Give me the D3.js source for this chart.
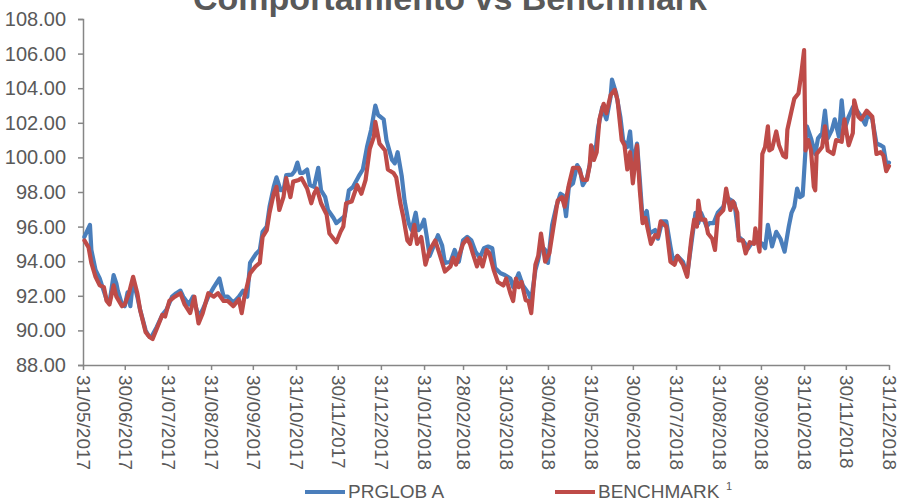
<!DOCTYPE html>
<html>
<head>
<meta charset="utf-8">
<script src="https://cdn.jsdelivr.net/npm/d3@7"></script>
<style>
  body { margin: 0; background: #fff; }
  svg { display: block; font-family: "Liberation Sans", Arial, sans-serif; }
</style>
</head>
<body>
<div id="chart"></div>
<script>
// data: days since 31/05/2017 and index values
var START_DATE = "31/05/2017";

var tickLabels = ["31/05/2017", "30/06/2017", "31/07/2017", "31/08/2017", "30/09/2017",
    "31/10/2017", "30/11/2017", "31/12/2017", "31/01/2018", "28/02/2018", "31/03/2018",
    "30/04/2018", "31/05/2018", "30/06/2018", "31/07/2018", "31/08/2018", "30/09/2018",
    "31/10/2018", "30/11/2018", "31/12/2018"];

var yTicks = [88, 90, 92, 94, 96, 98, 100, 102, 104, 106, 108];

var seriesNames = ["PRGLOB A", "BENCHMARK"];

var prglobDays = [1,5,6,9,12,14,17,19,22,24, 25,28,30,32,34,36,39,41,45,47,
    49,53,57,60,64,67,70,72,76,79, 83,86,90,94,98,101,104,108,112,115,
    118,120,124,127,129,132,134,137,139,142, 144,146,150,152,154,156,158,161,163,166,
    169,171,174,176,180,182,185,188,191,194, 198,201,204,207,210,212,216,218,222,224,
    226,229,231,234,236,239,241,243,245,247, 249,252,255,258,260,264,267,270,273,276,
    279,282,285,288,291,294,296,300,303,307, 309,313,316,320,322,325,327,329,332,334,
    337,340,343,345,347,349,352,355,357,359, 362,364,366,368,370,373,376,379,380,383,
    386,388,391,393,395,398,400,402,405,407, 411,413,416,419,422,424,427,431,434,437,
    440,442,444,448,450,453,456,460,462,466, 468,471,474,478,480,484,488,490,492,495,
    498,501,504,507,509,511,513,515,517,519, 520,523,526,528,531,533,535,538,540,543,
    545,547,550,553,556,559,562,564,567,570, 573,575,577,579];

var prglobValues = [95.4,96.1,94.65,93.5,93.0,92.5,91.76,91.6,93.2,92.7,
    92.3,91.5,91.4,92.2,91.4,92.9,91.95,91.2,90.0,89.7,
    89.6,90.2,90.9,91.2,91.95,92.15,92.3,91.95,91.5,91.95,
    90.8,91.2,91.95,92.5,93.0,91.95,91.95,91.6,91.95,92.3,
    91.95,93.9,94.4,94.65,95.7,96.0,97.15,98.3,98.85,98.1,
    98.1,98.98,99.0,99.2,99.7,99.1,99.1,99.3,98.4,98.3,
    99.4,98.1,97.7,96.96,96.5,96.2,96.4,96.6,98.1,98.3,
    98.9,99.3,100.6,101.6,103.0,102.45,102.2,101.0,99.85,99.66,
    100.3,98.9,97.5,96.2,95.8,96.8,95.8,96.0,96.4,95.4,
    94.3,94.9,95.5,94.9,93.9,93.97,94.65,93.97,95.2,95.4,
    95.2,94.55,94.2,94.75,94.85,94.75,93.6,93.3,93.2,93.0,
    92.5,93.3,92.6,92.15,91.75,93.5,94.07,94.9,94.65,93.9,
    96.1,97.15,97.9,97.8,96.6,98.3,98.5,99.56,99.3,98.4,
    98.8,99.56,100.6,100.23,101.7,102.9,102.2,103.5,104.5,103.7,
    102.35,101.0,100.6,101.5,99.56,100.8,98.7,96.4,96.9,95.6,
    95.8,95.3,96.3,96.3,94.85,93.97,94.3,93.97,93.2,95.0,
    96.8,96.2,96.8,96.0,96.2,96.2,96.8,97.15,97.7,97.5,
    97.35,95.4,95.2,94.75,95.0,95.2,95.0,94.75,96.1,94.85,
    95.7,95.3,94.55,96.0,96.8,97.15,98.2,97.7,97.8,100.4,
    101.8,101.1,100.2,101.1,101.4,102.7,101.1,101.6,102.2,101.2,
    103.3,101.6,102.35,102.9,102.7,102.35,101.9,102.55,102.2,100.8,
    100.7,100.6,99.66,99.7];

var benchDays = [1,4,6,9,12,15,17,19,22,24, 28,30,33,36,39,41,45,48,50,53,
    57,59,62,66,70,73,77,80,83,86, 90,94,97,101,104,108,112,114,116,120,
    124,127,129,132,134,137,139,141,144,146, 149,151,155,157,161,164,166,168,171,175,
    177,180,182,185,187,189,193,197,200,203, 206,209,210,213,217,219,223,225,228,230,
    233,235,238,240,243,246,249,253,256,260, 264,266,268,273,276,278,280,283,285,287,
    290,292,295,298,302,304,307,309,311,313, 315,318,320,322,325,327,329,332,335,338,
    341,344,346,349,352,356,359,362,364,365, 367,369,371,374,376,379,382,384,387,389,
    391,393,395,398,400,402,404,408,411,413, 415,419,422,425,427,431,434,437,439,441,
    442,444,447,449,452,454,456,460,462,465, 467,470,471,474,476,479,482,483,486,488,
    490,492,493,495,498,500,503,505,506,509, 511,514,516,518,519,521,523,525,526,527,
    531,533,535,539,541,545,547,550,553,554, 557,559,561,563,567,570,573,575,577,579];

var benchValues = [95.2,94.8,93.9,93.1,92.6,92.5,91.7,91.5,92.6,91.95,
    91.4,91.5,92.15,93.1,92.15,91.2,89.9,89.6,89.5,90.1,
    90.9,90.8,91.7,91.95,92.15,91.5,91.0,91.95,90.4,91.0,
    92.15,91.95,92.15,91.7,91.7,91.4,91.8,91.0,91.95,93.3,
    93.7,93.9,95.4,95.8,96.8,97.9,98.3,96.96,97.7,98.8,
    97.7,98.6,98.7,98.8,98.2,97.35,97.9,98.2,97.35,96.7,
    95.6,95.3,95.1,95.7,96.0,97.35,97.45,98.4,97.9,98.7,
    100.5,101.2,102.05,100.8,100.4,99.3,99.1,98.85,97.35,96.6,
    95.2,95.0,96.1,95.0,95.4,93.8,94.65,95.2,94.45,93.4,
    93.7,94.2,93.8,95.0,95.3,95.0,94.45,93.7,94.2,93.7,
    94.65,94.45,93.5,92.8,92.6,93.0,92.15,91.7,93.0,92.5,
    92.8,91.75,91.7,91.0,93.8,94.3,95.6,93.97,94.45,96.0,
    97.5,97.7,97.15,98.4,99.4,99.4,98.7,98.7,99.56,100.7,
    99.85,100.3,102.2,103.1,102.55,103.6,103.9,103.3,101.0,100.7,
    99.3,100.3,98.5,100.7,98.1,96.2,96.5,95.0,95.5,95.4,
    96.3,96.0,93.97,93.8,94.3,93.8,93.1,95.3,96.4,96.0,
    97.5,96.4,96.4,95.6,95.3,94.65,96.6,96.96,98.2,96.96,
    97.45,96.8,95.2,95.2,94.45,95.1,95.0,95.9,94.55,100.2,
    100.6,101.8,100.4,100.5,101.5,100.7,100.1,100.0,101.6,102.7,
    103.4,103.7,104.85,106.2,100.4,101.0,100.4,98.3,98.1,100.2,
    100.6,101.8,100.4,100.2,101.0,100.9,102.2,100.7,101.4,103.3,
    102.35,102.2,102.45,102.7,102.35,100.2,100.3,100.1,99.2,99.5];

var WIDTH = 899, HEIGHT = 499;
var LEFT = 83, RIGHT = 889, TOP = 19, BOTTOM = 365;
var BLUE = "#4a7ebb", RED = "#be4b48", AXIS = "#868686", TEXT = "#595959";

var parse = d3.timeParse("%d/%m/%Y");
var start = parse(START_DATE);
var tickDates = tickLabels.map(parse);

function toPoints(days, values) {
    return days.map(function (d, i) {
        return {date: d3.timeDay.offset(start, d), value: values[i]};
    });
}

var series = [
    {name: seriesNames[0], color: BLUE, points: toPoints(prglobDays, prglobValues)},
    {name: seriesNames[1], color: RED, points: toPoints(benchDays, benchValues)}
];

var x = d3.scaleTime()
    .domain([tickDates[0], tickDates[tickDates.length - 1]])
    .range([LEFT, RIGHT]);

var y = d3.scaleLinear()
    .domain([88, 108])
    .range([BOTTOM, TOP]);

var svg = d3.select("#chart").append("svg")
    .attr("width", WIDTH)
    .attr("height", HEIGHT);

// title (top of it runs off the image, as in the original)
svg.append("text")
    .attr("x", 450)
    .attr("y", 10)
    .attr("text-anchor", "middle")
    .attr("fill", TEXT)
    .style("font-size", "34px")
    .style("font-weight", "bold")
    .text("Comportamiento vs Benchmark");

// y axis
var yAxis = svg.append("g")
    .attr("transform", "translate(" + LEFT + ",0)")
    .call(d3.axisLeft(y)
        .tickValues(yTicks)
        .tickSize(5)
        .tickPadding(12)
        .tickFormat(d3.format(".2f")));

yAxis.select(".domain").attr("stroke", AXIS).attr("stroke-width", 1.5);
yAxis.selectAll(".tick line").attr("stroke", AXIS).attr("stroke-width", 1.5);
yAxis.selectAll(".tick text")
    .attr("fill", TEXT)
    .style("font-size", "20px")
    .style("font-family", "Liberation Sans, Arial, sans-serif");

// x axis
var xAxis = svg.append("g")
    .attr("transform", "translate(0," + BOTTOM + ")")
    .call(d3.axisBottom(x)
        .tickValues(tickDates)
        .tickSize(5)
        .tickSizeOuter(0)
        .tickFormat(d3.timeFormat("%d/%m/%Y")));

xAxis.select(".domain").attr("stroke", AXIS).attr("stroke-width", 1.5);
xAxis.selectAll(".tick line").attr("stroke", AXIS).attr("stroke-width", 1.5);
xAxis.selectAll(".tick text")
    .attr("fill", TEXT)
    .style("font-size", "19px")
    .style("font-family", "Liberation Sans, Arial, sans-serif")
    .attr("text-anchor", "start")
    .attr("transform", "rotate(90)")
    .attr("x", 10)
    .attr("y", 0)
    .attr("dy", "0.35em");

// lines
var line = d3.line()
    .x(function (d) { return x(d.date); })
    .y(function (d) { return y(d.value); });

svg.append("g").attr("id", "lines")
    .selectAll("path")
    .data(series)
    .enter().append("path")
    .attr("d", function (d) { return line(d.points); })
    .attr("fill", "none")
    .attr("stroke", function (d) { return d.color; })
    .attr("stroke-width", 4.2)
    .attr("stroke-linejoin", "round")
    .attr("stroke-linecap", "round");

// legend
var legend = svg.append("g").attr("id", "legend");
var legendX = [305, 555];

series.forEach(function (s, i) {
    legend.append("line")
        .attr("x1", legendX[i]).attr("x2", legendX[i] + 40)
        .attr("y1", 492).attr("y2", 492)
        .attr("stroke", s.color)
        .attr("stroke-width", 4.2);
    legend.append("text")
        .attr("x", legendX[i] + 43)
        .attr("y", 498)
        .attr("fill", TEXT)
        .style("font-size", "19px")
        .text(s.name);
});

legend.append("text")
    .attr("x", 726)
    .attr("y", 490)
    .attr("fill", TEXT)
    .style("font-size", "11px")
    .text("1");
</script>
</body>
</html>
